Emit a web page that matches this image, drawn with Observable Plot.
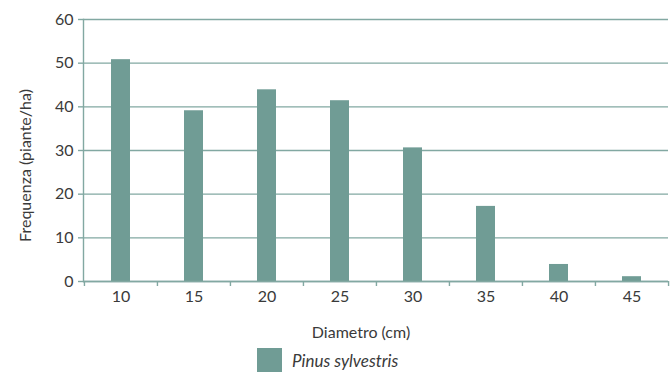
<!DOCTYPE html>
<html>
<head>
<meta charset="utf-8">
<script src="https://cdn.jsdelivr.net/npm/d3@7"></script>
<script src="https://cdn.jsdelivr.net/npm/@observablehq/plot@0.6"></script>
<style>
  html, body { margin: 0; padding: 0; background: #fff; }
  #chart svg { display: block; }
  .legend { display: flex; align-items: center; height: 30px; padding-left: 257px; padding-top: 0px;
            font-family: Lato, sans-serif; font-size: 17px; color: #3a3a3a; }
  .legend .sw { width: 25px; height: 24px; margin-right: 10px; }
  .legend span { font-style: italic; }
</style>
</head>
<body>
<div id="chart"></div>
<script>
const diameters = ["10", "15", "20", "25", "30", "35", "40", "45"];
const frequencies = [50.8, 39.1, 43.9, 41.4, 30.6, 17.2, 3.9, 1.1];
const yTicks = [0, 10, 20, 30, 40, 50, 60];
const seriesName = "Pinus sylvestris";
const xTitle = "Diametro (cm)";
const yTitle = "Frequenza (piante/ha)";

const barColor = "#709c95";
const lineColor = "#82a8a2";
const textColor = "#3a3a3a";

const data = diameters.map((d, i) => ({diameter: d, freq: frequencies[i]}));

const W = 672, H = 345, mL = 83, mR = 4, mT = 19, mB = 64;
const step = (W - mL - mR) / diameters.length;

const plot = Plot.plot({
  width: W, height: H,
  marginLeft: mL, marginRight: mR, marginTop: mT, marginBottom: mB,
  style: {fontFamily: "Lato, sans-serif", fontSize: "16px", color: textColor, background: "#fff"},
  x: {domain: diameters, paddingInner: 0.74, paddingOuter: 0.37, label: null},
  y: {domain: [0, 60], ticks: yTicks, label: null},
  marks: [
    Plot.gridY(yTicks, {stroke: lineColor, strokeOpacity: 1, strokeWidth: 1.4}),
    Plot.barY(data, {x: "diameter", y: "freq", fill: barColor}),
    Plot.frame({anchor: "left", stroke: lineColor, strokeWidth: 1.4}),
    Plot.ruleY([0], {stroke: lineColor, strokeWidth: 1.4}),
    Plot.axisY({ticks: yTicks, tickSize: 5, tickPadding: 5, stroke: lineColor, strokeWidth: 1.4, fill: textColor, label: null}),
    Plot.axisX({tickSize: 0, tickPadding: 9, fill: textColor, label: null}),
    Plot.axisX({tickSize: 5, text: null, dx: -step / 2, stroke: lineColor, strokeWidth: 1.4, label: null}),
    Plot.axisX({ticks: [diameters[diameters.length - 1]], tickSize: 5, text: null, dx: step / 2, stroke: lineColor, strokeWidth: 1.4, label: null}),
    Plot.text([xTitle], {frameAnchor: "bottom", textAnchor: "middle", lineAnchor: "middle", dx: -15, dy: 51, fill: textColor, fontSize: 16}),
    Plot.text([yTitle], {frameAnchor: "left", textAnchor: "middle", lineAnchor: "middle", rotate: -90, dx: -58, dy: 15, fill: textColor, fontSize: 16})
  ]
});
document.getElementById("chart").appendChild(plot);

const legend = document.createElement("div");
legend.className = "legend";
legend.innerHTML = `<div class="sw" style="background:${barColor}"></div><span>${seriesName}</span>`;
document.body.appendChild(legend);
</script>
</body>
</html>
